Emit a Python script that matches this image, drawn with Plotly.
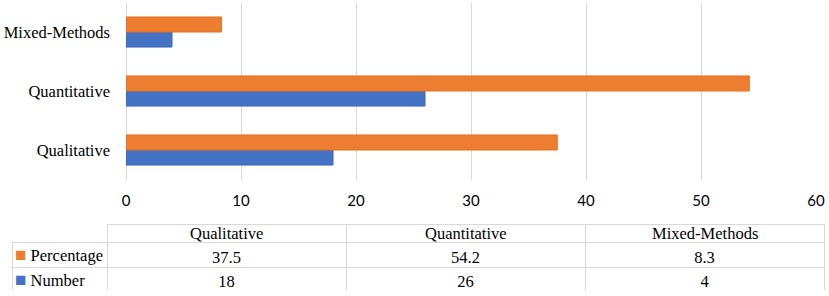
import plotly.graph_objects as go

categories = ["Qualitative", "Quantitative", "Mixed-Methods"]
percentage = [37.5, 54.2, 8.3]
number = [18, 26, 4]
series_names = ["Percentage", "Number"]
x_ticks = [0, 10, 20, 30, 40, 50, 60]

ORANGE = "#ED7D31"
BLUE = "#4472C4"
GRID = "#d9d9d9"
W, H = 829, 296
SERIF = "Liberation Serif, Times New Roman, serif"
SANS = "Lato, Open Sans, sans-serif"

fig = go.Figure()
fig.add_trace(go.Bar(
    y=categories, x=number, orientation="h", name="Number",
    marker=dict(color=BLUE, line=dict(color="#3b66b6", width=1)),
))
fig.add_trace(go.Bar(
    y=categories, x=percentage, orientation="h", name="Percentage",
    marker=dict(color=ORANGE, line=dict(color="#e8711f", width=1)),
))

# data table under the chart
TBL_LEFT, TBL_RIGHT, TBL_TOP, TBL_BOT = 12, 824, 224, 291
HEAD_H, ROW_H = 18.5, 24.5
col_widths = [95, 239, 239, 239]

fig.add_trace(go.Table(
    domain=dict(x=[TBL_LEFT / W, TBL_RIGHT / W], y=[1 - TBL_BOT / H, 1 - TBL_TOP / H]),
    columnwidth=col_widths,
    header=dict(
        values=["", "", "", ""],
        fill=dict(color=["rgba(0,0,0,0)", "white", "white", "white"]),
        line=dict(color=["rgba(0,0,0,0)", GRID, GRID, GRID], width=1),
        font=dict(family=SERIF, size=16.5, color="black"),
        height=HEAD_H,
    ),
    cells=dict(
        values=[["", ""],
                [percentage[0], number[0]],
                [percentage[1], number[1]],
                [percentage[2], number[2]]],
        fill=dict(color="white"),
        line=dict(color=GRID, width=1),
        font=dict(family=SERIF, size=16.5, color="black"),
        align=["left", "center", "center", "center"],
        height=ROW_H,
    ),
))

# header labels (category names) centred in their columns
x_edge = TBL_LEFT + col_widths[0]
for cat, cw in zip(categories, col_widths[1:]):
    fig.add_annotation(
        xref="paper", yref="paper", x=(x_edge + cw / 2) / W,
        y=1 - (TBL_TOP + HEAD_H / 2) / H,
        xanchor="center", yanchor="middle", showarrow=False,
        text=cat, font=dict(family=SERIF, size=16.5, color="black"),
    )
    x_edge += cw

# legend keys inside the table's first column
for i, (name, color) in enumerate(zip(series_names, [ORANGE, BLUE])):
    yc = TBL_TOP + HEAD_H + ROW_H * (i + 0.5)
    fig.add_annotation(
        xref="paper", yref="paper", x=13 / W, y=1 - yc / H,
        xanchor="left", yanchor="middle", showarrow=False,
        text=f'<span style="color:{color};font-size:19px">■</span> {name}',
        font=dict(family=SERIF, size=16.5, color="black"),
    )

fig.update_layout(
    width=W, height=H,
    margin=dict(l=0, r=0, t=0, b=0),
    paper_bgcolor="white", plot_bgcolor="white",
    barmode="group", bargap=0.49, bargroupgap=0,
    showlegend=False,
    xaxis=dict(
        domain=[126 / W, 816 / W], range=[0, 60], automargin=False,
        tickvals=x_ticks, showgrid=True, gridcolor=GRID, gridwidth=1,
        zeroline=True, zerolinecolor=GRID, zerolinewidth=1,
        showline=False, ticks="",
        tickfont=dict(family=SANS, size=15, color="black"),
        ticklabelstandoff=10,
    ),
    yaxis=dict(
        domain=[1 - 179.5 / H, 1 - 2.5 / H], automargin=False,
        showgrid=False, showline=False, ticks="",
        tickfont=dict(family=SERIF, size=16.5, color="black"),
        ticklabelstandoff=15,
    ),
)

fig.write_html("out.html", config={"displayModeBar": False},
               post_script="document.body.style.margin='0';")
